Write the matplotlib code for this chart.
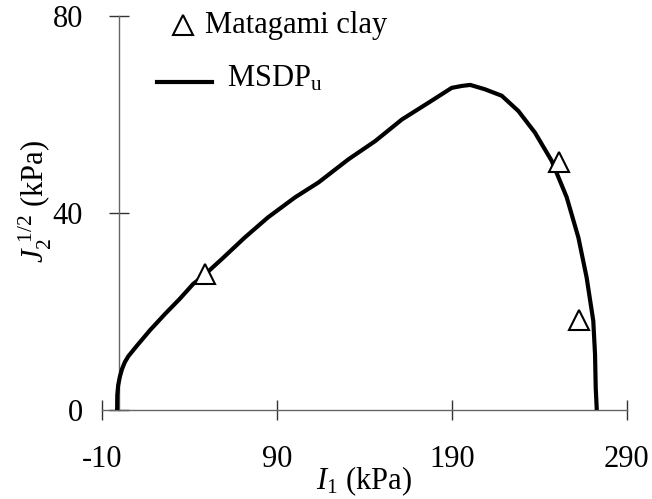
import matplotlib
matplotlib.use("Agg")
import matplotlib.pyplot as plt
from matplotlib.lines import Line2D

plt.rcParams['font.family'] = ['Liberation Serif', 'DejaVu Serif']
plt.rcParams['mathtext.fontset'] = 'custom'
plt.rcParams['mathtext.rm'] = 'Liberation Serif'
plt.rcParams['mathtext.it'] = 'Liberation Serif:italic'
plt.rcParams['axes.unicode_minus'] = False

# MSDP_u failure curve (I1, sqrt(J2)) in kPa
curve_I1 = [-1.2, -1.1, -0.6, 0.4, 1.6, 3.2, 5.2, 10, 17.6, 26.2, 34.7, 42.3, 48, 58.5, 71.7, 85,
            100.6, 113.9, 131, 146.3, 161.6, 176.8, 190, 195.9, 200.6, 209.1,
            218.6, 228.1, 237.6, 247.1, 255.7, 262.4, 267.1, 270.9, 271.9, 272.3, 272.9]
curve_J = [0, 3, 5, 6.8, 8.3, 9.7, 10.9, 13, 16.2, 19.5, 22.6, 25.6, 27.2, 30.6, 35, 39.1,
           43.2, 46.2, 50.9, 54.6, 59, 62.4, 65.4, 65.8, 66, 65.1,
           63.8, 60.7, 56.3, 50.6, 43.2, 35, 26.9, 18.1, 11.3, 4.5, 0]

# Matagami clay test data
clay_I1 = [49, 251.3, 262.7]
clay_J = [27.7, 50.4, 18.3]

xticks = [-10, 90, 190, 290]
yticks = [0, 40, 80]

fig = plt.figure(figsize=(6.52, 4.99), dpi=100)
ax = fig.add_axes([0.156, 0.1784, 0.8052, 0.7896])

ax.plot(curve_I1, curve_J, color='black', lw=3, solid_capstyle='butt',
        solid_joinstyle='round', clip_on=False, zorder=3)
ax.plot(clay_I1, clay_J, linestyle='none', marker='^', ms=14, mfc='white',
        mec='black', mew=1.5, clip_on=False, zorder=4)

ax.set_xlim(-10, 290)
ax.set_ylim(0, 80)
ax.set_xticks(xticks)
ax.set_yticks(yticks)

for s in ['top', 'right']:
    ax.spines[s].set_visible(False)
ax.spines['left'].set_position(('data', 0))
ax.spines['bottom'].set_position(('data', 0))
for s in ['left', 'bottom']:
    ax.spines[s].set_color('#666666')
    ax.spines[s].set_linewidth(1.0)

ax.tick_params(axis='x', direction='inout', length=14, width=1, color='#333333',
               labelsize=22, pad=18)
ax.tick_params(axis='y', direction='inout', length=14, width=1, color='#333333',
               labelsize=22, pad=19)

ax.set_xlabel(r"$I_{\rm 1}$ (kPa)", fontsize=22)
ax.xaxis.set_label_coords(0.5, -0.137)
ax.set_ylabel(r"$J_{\rm 2}^{\ \rm 1/2}$ (kPa)", fontsize=22)
ax.yaxis.set_label_coords(-0.09, 0.53)

# legend drawn manually
ax.add_line(Line2D([0.155], [0.977], transform=ax.transAxes, marker='^', ms=14,
                   mfc='white', mec='black', mew=1.5, linestyle='none', clip_on=False))
ax.text(0.197, 0.977, "Matagami clay", transform=ax.transAxes, fontsize=22,
        va='center', ha='left')
ax.add_line(Line2D([0.105, 0.210], [0.833, 0.833], transform=ax.transAxes,
                   color='black', lw=3, clip_on=False))
ax.text(0.238, 0.84, r"MSDP$_{\rm u}$", transform=ax.transAxes, fontsize=22,
        va='center', ha='left')

fig.savefig("out.png", dpi=100)
